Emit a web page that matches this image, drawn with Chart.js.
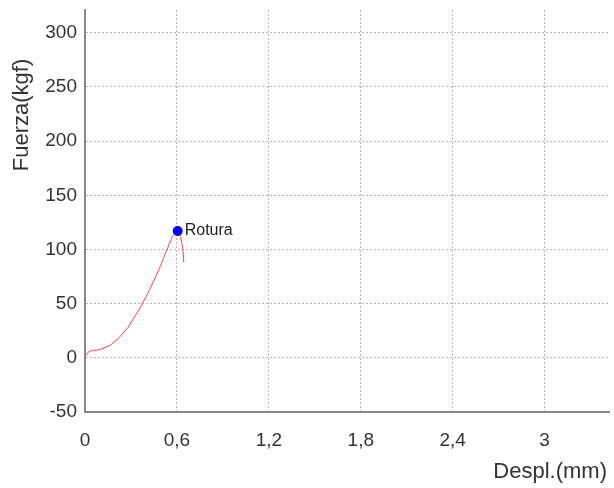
<!DOCTYPE html>
<html>
<head>
<meta charset="utf-8">
<script src="https://cdn.jsdelivr.net/npm/chart.js@4/dist/chart.umd.min.js"></script>
<style>
  html, body { margin: 0; padding: 0; background: #fff; }
  #wrap { width: 614px; height: 488px; position: relative; }
</style>
</head>
<body>
<div id="wrap"><canvas id="c"></canvas></div>
<script>
// Ensayo de tracción: desplazamiento (mm) frente a fuerza (kgf)
const despl  = [0, 0.021, 0.043, 0.097, 0.161, 0.215, 0.28, 0.355, 0.419, 0.484, 0.527, 0.57, 0.605, 0.624, 0.639, 0.645];
const fuerza = [0.6, 5.2, 6.7, 7.6, 11.3, 17.4, 28, 45, 62, 82, 97, 112, 117, 112, 100, 88];

// Punto de rotura
const roturaDespl = [0.605];
const roturaFuerza = [117];
const roturaTexto = 'Rotura';

// Marcas de los ejes
const xTicks = [0, 0.6, 1.2, 1.8, 2.4, 3];
const yTicks = [-50, 0, 50, 100, 150, 200, 250, 300];

const xTitle = 'Despl.(mm)';
const yTitle = 'Fuerza(kgf)';

const FONT = '"Liberation Sans", Arial, sans-serif';

const curva = despl.map((x, i) => ({ x, y: fuerza[i] }));
const rotura = roturaDespl.map((x, i) => ({ x, y: roturaFuerza[i] }));

const textos = {
  id: 'textos',
  afterDatasetsDraw(chart) {
    const ctx = chart.ctx;
    const meta = chart.getDatasetMeta(1);
    ctx.save();
    ctx.fillStyle = '#222';
    ctx.font = '16px ' + FONT;
    ctx.textBaseline = 'middle';
    ctx.textAlign = 'left';
    meta.data.forEach(pt => {
      ctx.fillText(roturaTexto, pt.x + 7, pt.y);
    });
    ctx.restore();
  },
  afterDraw(chart) {
    const ctx = chart.ctx;
    ctx.save();
    ctx.fillStyle = '#333';
    ctx.font = '22px ' + FONT;
    ctx.textBaseline = 'middle';
    ctx.textAlign = 'right';
    ctx.fillText(xTitle, 607, 472);
    ctx.translate(22, 115);
    ctx.rotate(-Math.PI / 2);
    ctx.textAlign = 'center';
    ctx.fillText(yTitle, 0, 0);
    ctx.restore();
  }
};

// sin márgenes automáticos: el área del gráfico queda fija
const sinPadding = scale => {
  scale.paddingTop = 0;
  scale.paddingBottom = 0;
  scale.paddingLeft = 0;
  scale.paddingRight = 0;
};

new Chart(document.getElementById('c'), {
  type: 'scatter',
  data: {
    datasets: [
      {
        data: curva,
        showLine: true,
        borderColor: '#ff4444',
        borderWidth: 1,
        pointRadius: 0,
        tension: 0,
        order: 2
      },
      {
        data: rotura,
        showLine: false,
        pointRadius: 5,
        pointBackgroundColor: '#0000ff',
        pointBorderColor: '#0000ff',
        pointBorderWidth: 0,
        order: 1
      }
    ]
  },
  options: {
    responsive: true,
    maintainAspectRatio: false,
    animation: false,
    layout: { padding: { top: 10, right: 0, left: 0, bottom: 0 } },
    plugins: { legend: { display: false }, tooltip: { enabled: false } },
    scales: {
      x: {
        type: 'linear',
        min: 0,
        max: 3.42,
        afterBuildTicks(scale) { scale.ticks = xTicks.map(v => ({ value: v })); },
        afterFit(scale) { scale.height = 76; sinPadding(scale); },
        grid: { color: '#b5b5b5', lineWidth: 1, drawTicks: false },
        border: { display: true, color: '#888', width: 2, dash: [2, 2] },
        ticks: {
          color: '#333',
          font: { family: FONT, size: 19 },
          padding: 17,
          maxRotation: 0,
          callback: v => String(v).replace('.', ',')
        }
      },
      y: {
        type: 'linear',
        min: -50,
        max: 321,
        afterBuildTicks(scale) { scale.ticks = yTicks.map(v => ({ value: v })); },
        afterFit(scale) { scale.width = 85; sinPadding(scale); },
        grid: { color: '#b5b5b5', lineWidth: 1, drawTicks: false },
        border: { display: true, color: '#888', width: 2, dash: [2, 2] },
        ticks: {
          color: '#333',
          font: { family: FONT, size: 19 },
          padding: 8
        }
      }
    }
  },
  plugins: [textos]
});
</script>
</body>
</html>
